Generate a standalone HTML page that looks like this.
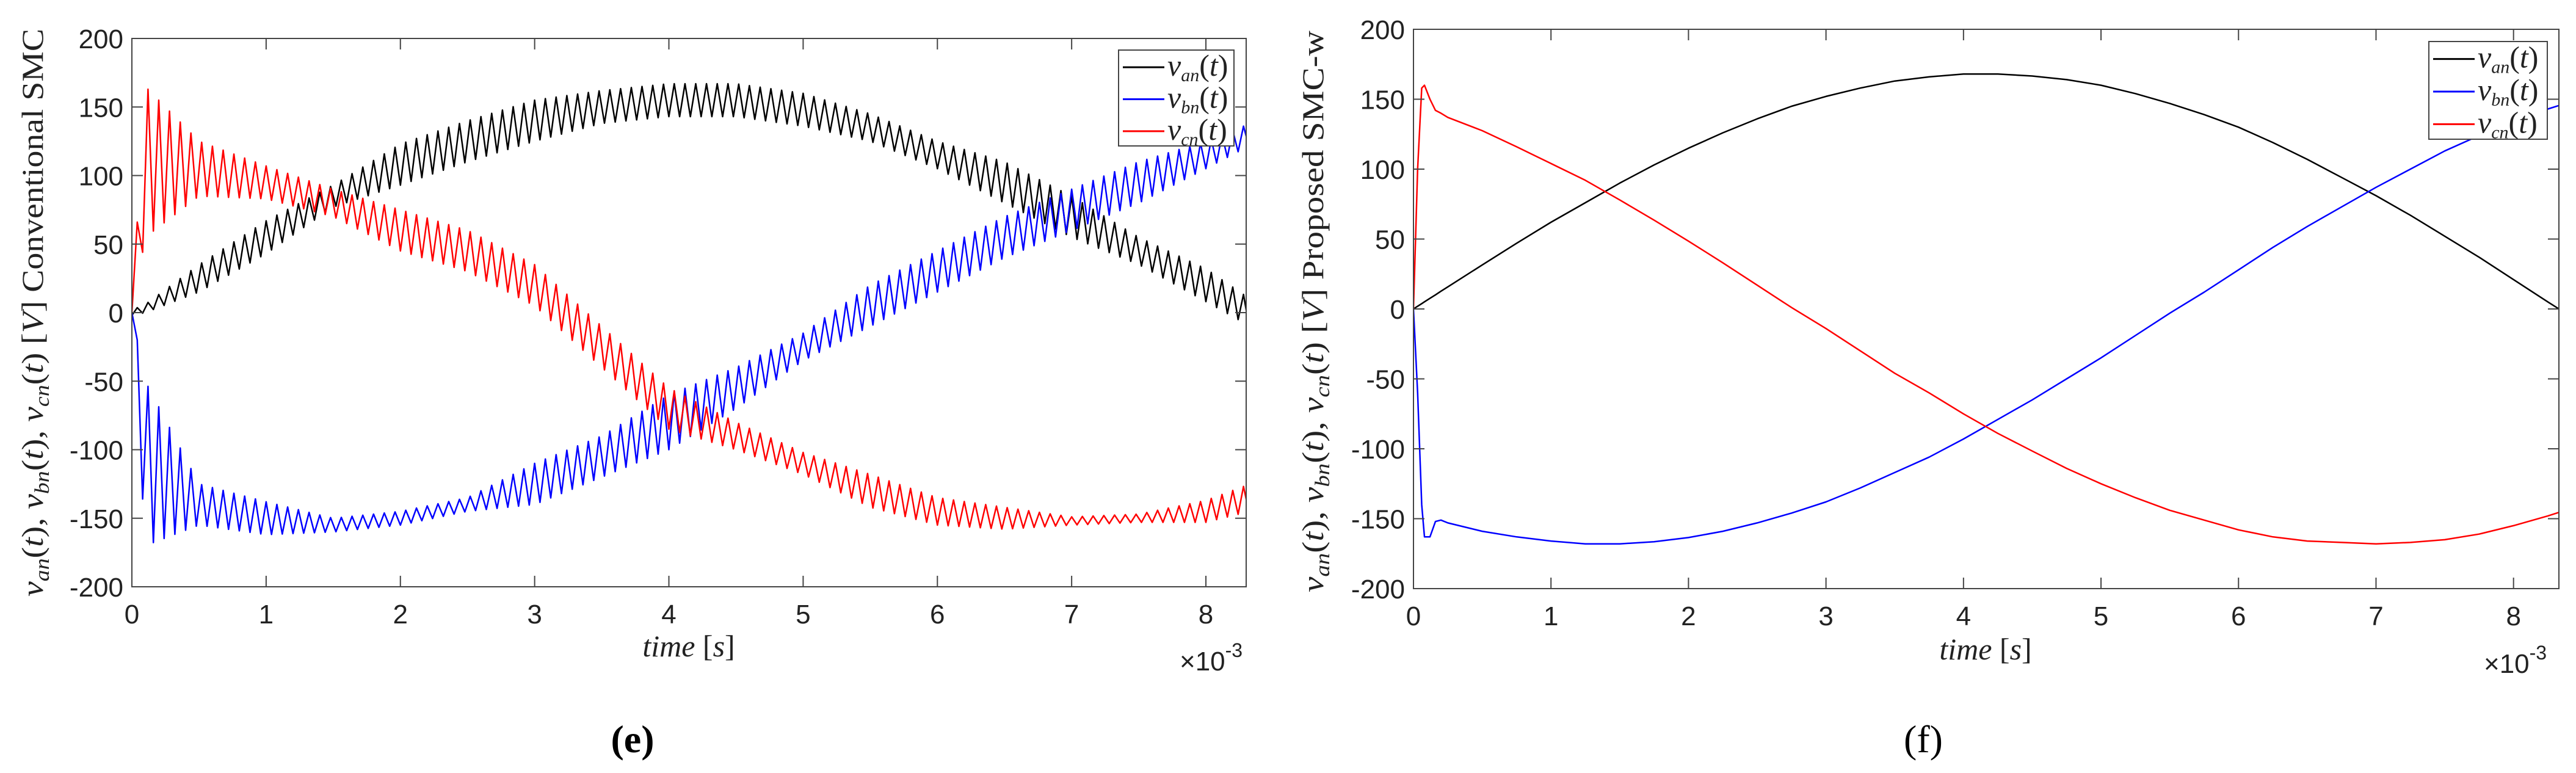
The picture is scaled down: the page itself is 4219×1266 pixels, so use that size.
<!DOCTYPE html>
<html><head><meta charset="utf-8"><style>
html,body{margin:0;padding:0;background:#fff;}
svg{display:block;}
.tk{font-family:"Liberation Sans",sans-serif;font-size:44px;fill:#222;}
.lab{font-family:"Liberation Serif",serif;font-size:50px;fill:#222;}
</style></head><body>
<svg id="fig" width="4219" height="1266" viewBox="0 0 4219 1266" xmlns="http://www.w3.org/2000/svg">
<g>
<text class="lab" transform="translate(70,512) rotate(-90)" text-anchor="middle" textLength="930" lengthAdjust="spacingAndGlyphs"><tspan font-style="italic">v</tspan><tspan font-style="italic" font-size="34" dy="10">an</tspan><tspan dy="-10">(</tspan><tspan font-style="italic">t</tspan>), <tspan font-style="italic">v</tspan><tspan font-style="italic" font-size="34" dy="10">bn</tspan><tspan dy="-10">(</tspan><tspan font-style="italic">t</tspan>), <tspan font-style="italic">v</tspan><tspan font-style="italic" font-size="34" dy="10">cn</tspan><tspan dy="-10">(</tspan><tspan font-style="italic">t</tspan>)  [<tspan font-style="italic">V</tspan>] Conventional SMC</text>
<text class="lab" x="1128" y="1075" text-anchor="middle"><tspan font-style="italic">time</tspan>  [<tspan font-style="italic">s</tspan>]</text>
<text class="tk" x="1932" y="1098">×10<tspan font-size="32" dy="-22">-3</tspan></text>
<text x="1036" y="1232" text-anchor="middle" font-family="Liberation Serif,serif" font-size="64" font-weight="bold">(e)</text>
</g>
<g>
<text class="lab" transform="translate(2167,510) rotate(-90)" text-anchor="middle" textLength="920" lengthAdjust="spacingAndGlyphs"><tspan font-style="italic">v</tspan><tspan font-style="italic" font-size="34" dy="10">an</tspan><tspan dy="-10">(</tspan><tspan font-style="italic">t</tspan>), <tspan font-style="italic">v</tspan><tspan font-style="italic" font-size="34" dy="10">bn</tspan><tspan dy="-10">(</tspan><tspan font-style="italic">t</tspan>), <tspan font-style="italic">v</tspan><tspan font-style="italic" font-size="34" dy="10">cn</tspan><tspan dy="-10">(</tspan><tspan font-style="italic">t</tspan>)  [<tspan font-style="italic">V</tspan>] Proposed SMC-w</text>
<text class="lab" x="3252" y="1080" text-anchor="middle"><tspan font-style="italic">time</tspan>  [<tspan font-style="italic">s</tspan>]</text>
<text class="tk" x="4068" y="1102">×10<tspan font-size="32" dy="-22">-3</tspan></text>
<text x="3150" y="1232" text-anchor="middle" font-family="Liberation Serif,serif" font-size="64">(f)</text>
</g>
</svg>
<script>
// ---- Data: panel (e) conventional SMC, envelope centers and ripple amplitudes ----
const eT = [0,0.1,0.5,1,1.5,2,2.5,3,3.5,4,4.5,5,5.5,6,6.5,7,7.5,8,8.33];
const eVanCenter = [0,3,25,55,85,108,125,140,150,155,155,148,135,115,95,70,45,20,0];
const eVanRipple = [2,3,10,12,8,15,15,15,12,12,12,12,10,10,15,15,10,12,10];
const eVbnCenter = [0,-110,-140,-150,-155,-150,-140,-125,-105,-80,-55,-25,5,30,55,75,95,115,130];
const eVbnRipple = [0,60,15,12,5,5,5,15,15,20,15,10,15,15,15,15,15,10,8];
const eVcnCenter = [0,110,105,95,80,60,45,20,-25,-70,-90,-110,-130,-145,-150,-152,-150,-145,-135];
const eVcnRipple = [0,55,20,12,10,15,15,15,15,15,10,8,12,10,8,3,3,8,10];
// ---- Data: panel (f) proposed SMC-w ----
const fT = [0,0.03,0.06,0.08,0.12,0.16,0.2,0.25,0.5,0.75,1,1.25,1.5,1.75,2,2.25,2.5,2.75,3,3.25,3.5,3.75,4,4.25,4.5,4.75,5,5.25,5.5,5.75,6,6.25,6.5,6.75,7,7.25,7.5,7.75,8,8.25,8.33];
const fVan = [0,1.9,3.8,5.1,7.6,10.1,12.7,15.8,31.5,47,62,76,90,103,115,126,136,145,152,158,163,166,168,168,166.6,164,160,154,147,139,130,119,107,94,81,67,52,37,21,5,0];
const fVbn = [0,-60,-140,-163,-163,-152,-151,-153,-159,-163,-166,-168,-168,-166.5,-163.5,-159,-153,-146,-138,-128,-117,-106,-93,-79,-65,-50,-35,-19,-3,12,28,44,59,73,87,100,113,124,134,143,145.5];
const fVcn = [0,100,158,160,150,142,140,137,127.5,116,104,92,78,63.5,48.5,33,17,1,-14,-30,-46,-60,-75,-89,-101.6,-114,-125,-135,-144,-151,-158,-163,-166,-167,-168,-167,-165,-161,-155,-148,-145.5];
const yTicks = [200,150,100,50,0,-50,-100,-150,-200];
const yTickLabels = ["200","150","100","50","0","-50","-100","-150","-200"];
const xTicks = [0,1,2,3,4,5,6,7,8];
const xTickLabels = ["0","1","2","3","4","5","6","7","8"];
const legendLabels = [["v","an"],["v","bn"],["v","cn"]];

const NS = "http://www.w3.org/2000/svg";
const svg = document.getElementById("fig");
function mk(tag, attrs, parent){const e=document.createElementNS(NS,tag);for(const k in attrs)e.setAttribute(k,attrs[k]);(parent||svg).appendChild(e);return e;}
function interp(ts, vs, t){for(let i=0;i<ts.length-1;i++){if(t<=ts[i+1]){const f=(t-ts[i])/(ts[i+1]-ts[i]);return vs[i]+f*(vs[i+1]-vs[i]);}}return vs[vs.length-1];}

function drawPanel(name, g, series, legendBox){
  const xs = t => g.x0 + (t/g.xmax)*(g.x1-g.x0);
  const ys = v => g.y0 + (200-v)/400*(g.y1-g.y0);
  const grp = mk("g",{});
  
  
  const clipId = name+"clip";
  const cp = mk("clipPath",{id:clipId},grp);
  mk("rect",{x:g.x0,y:g.y0,width:g.x1-g.x0,height:g.y1-g.y0},cp);
  const lines = mk("g",{"clip-path":"url(#"+clipId+")"},grp);
  series.forEach(s=>{
    const p = mk("polyline",{points:s.pts.map(q=>xs(q[0]).toFixed(1)+","+ys(q[1]).toFixed(1)).join(" "),fill:"none",stroke:s.color,"stroke-width":g.sw,"stroke-linejoin":"round"},lines);
    
    
  });
  const ax = mk("rect",{x:g.x0,y:g.y0,width:g.x1-g.x0,height:g.y1-g.y0,fill:"none",stroke:"#444","stroke-width":2},grp);
  
  
  yTicks.forEach((v,i)=>{
    const y=ys(v);
    mk("line",{x1:g.x0,x2:g.x0+18,y1:y,y2:y,stroke:"#444","stroke-width":2},grp);
    mk("line",{x1:g.x1,x2:g.x1-18,y1:y,y2:y,stroke:"#444","stroke-width":2},grp);
    const t=mk("text",{x:g.x0-14,y:y+16,"text-anchor":"end",class:"tk"},grp);
    t.textContent=yTickLabels[i];
    
    
  });
  xTicks.forEach((v,i)=>{
    const x=xs(v);
    mk("line",{x1:x,x2:x,y1:g.y1,y2:g.y1-18,stroke:"#444","stroke-width":2},grp);
    mk("line",{x1:x,x2:x,y1:g.y0,y2:g.y0+18,stroke:"#444","stroke-width":2},grp);
    const t=mk("text",{x:x,y:g.y1+60,"text-anchor":"middle",class:"tk"},grp);
    t.textContent=xTickLabels[i];
    
    
  });
  const lg = mk("g",{},grp);
  
  
  mk("rect",{x:legendBox.x,y:legendBox.y,width:legendBox.w,height:legendBox.h,fill:"#fff",stroke:"#444","stroke-width":2},lg);
  series.forEach((s,i)=>{
    const cy = legendBox.y+legendBox.h*(i+0.5)/3+2;
    const e = mk("g",{},lg);
    
    
    mk("line",{x1:legendBox.x+7,x2:legendBox.x+75,y1:cy,y2:cy,stroke:s.color,"stroke-width":3},e);
    const t = mk("text",{x:legendBox.x+80,y:cy+14,class:"lab","font-size":"46"},e);
    t.innerHTML = '<tspan font-style="italic">'+legendLabels[i][0]+'</tspan><tspan font-style="italic" font-size="30" dy="9">'+legendLabels[i][1]+'</tspan><tspan dy="-9">(</tspan><tspan font-style="italic">t</tspan>)';
  });
}

function rippled(centers, ripples){
  const pts=[]; let k=0;
  for(let t=0;t<=8.33+1e-9;t+=0.04){pts.push([t, interp(eT,centers,t)+(k%2?1:-1)*interp(eT,ripples,t)]);k++;}
  pts.push([8.33, centers[centers.length-1]]);
  return pts;
}
drawPanel("panel-e",{x0:216,x1:2041,y0:63,y1:961,xmax:8.3,sw:2.5},[
  {key:"van",color:"#000",pts:rippled(eVanCenter,eVanRipple)},
  {key:"vbn",color:"#0000ff",pts:rippled(eVbnCenter,eVbnRipple)},
  {key:"vcn",color:"#ff0000",pts:rippled(eVcnCenter,eVcnRipple)}
],{x:1832,y:82,w:189,h:157});

drawPanel("panel-f",{x0:2315,x1:4191,y0:48,y1:964,xmax:8.33,sw:2.5},[
  {key:"van",color:"#000",pts:fT.map((t,i)=>[t,fVan[i]])},
  {key:"vbn",color:"#0000ff",pts:fT.map((t,i)=>[t,fVbn[i]])},
  {key:"vcn",color:"#ff0000",pts:fT.map((t,i)=>[t,fVcn[i]])}
],{x:3978,y:68,w:194,h:160});
</script>
</body></html>
